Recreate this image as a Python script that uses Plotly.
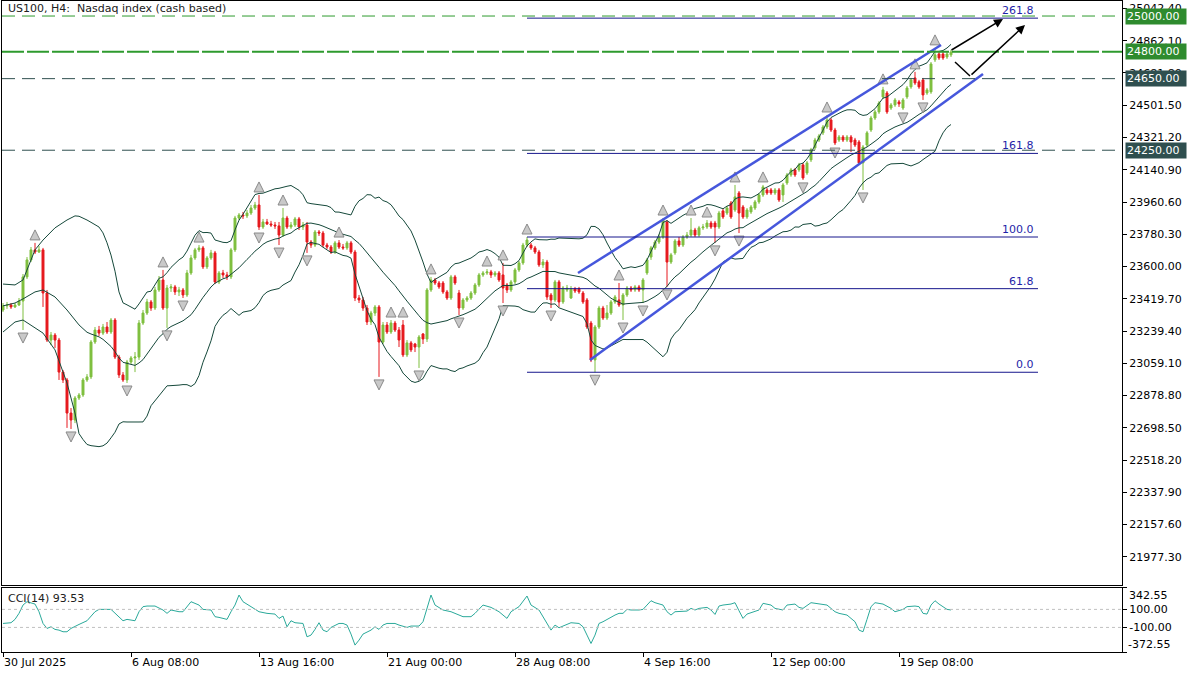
import numpy as np
import pandas as pd
import plotly.graph_objects as go

# ---------------- DATA (H4 bars, bar 0 = 30 Jul 2025 00:00) ----------------
opens = [23357, 23380, 23385, 23374, 23385, 23407, 23542, 23637, 23693, 23681,
         23693, 23452, 23189, 23217, 23189, 23010, 22966, 22781, 22742, 22865,
         22882, 22966, 22983, 23178, 23245, 23228, 23262, 23234, 23301, 23094,
         22994, 22966, 23066, 23089, 23094, 23284, 23340, 23402, 23368, 23469,
         23525, 23368, 23480, 23486, 23458, 23469, 23441, 23564, 23648, 23693,
         23704, 23598, 23648, 23676, 23514, 23564, 23553, 23542, 23693, 23871,
         23888, 23883, 23899, 23927, 23944, 23821, 23849, 23838, 23832, 23827,
         23776, 23871, 23821, 23832, 23866, 23821, 23832, 23737, 23720, 23793,
         23787, 23720, 23709, 23681, 23732, 23709, 23704, 23732, 23681, 23424,
         23413, 23368, 23290, 23340, 23374, 23178, 23273, 23234, 23284, 23245,
         23273, 23106, 23173, 23167, 23150, 23223, 23195, 23469, 23525, 23508,
         23508, 23458, 23424, 23542, 23452, 23368, 23413, 23424, 23452, 23497,
         23553, 23564, 23570, 23553, 23564, 23553, 23497, 23469, 23514, 23581,
         23620, 23720, 23720, 23704, 23681, 23609, 23625, 23441, 23413, 23514,
         23402, 23469, 23424, 23475, 23475, 23452, 23413, 23284, 23078, 23262,
         23368, 23312, 23340, 23402, 23413, 23385, 23441, 23480, 23469, 23486,
         23469, 23564, 23653, 23704, 23737, 23765, 23849, 23625, 23676, 23743,
         23720, 23765, 23776, 23804, 23776, 23816, 23821, 23843, 23843, 23821,
         23911, 23899, 23955, 23916, 24011, 23933, 23877, 23905, 23927, 23961,
         24000, 24028, 24028, 24011, 24028, 24000, 24067, 24112, 24140, 24140,
         24168, 24123, 24196, 24263, 24307, 24347, 24380, 24419, 24363, 24307,
         24324, 24307, 24324, 24307, 24296, 24179, 24279, 24363, 24430, 24464,
         24548, 24570, 24486, 24503, 24520, 24486, 24548, 24604, 24654, 24632,
         24643, 24570, 24576, 24755, 24788, 24788, 24771, 24783]
highs = [23396, 23402, 23396, 23396, 23424, 23558, 23653, 23709, 23732, 23715,
         23704, 23469, 23234, 23228, 23201, 23022, 22977, 22809, 22876, 22893,
         22977, 22999, 23189, 23262, 23268, 23279, 23290, 23312, 23312, 23106,
         23010, 23078, 23100, 23122, 23301, 23357, 23419, 23413, 23486, 23547,
         23581, 23497, 23502, 23497, 23486, 23480, 23581, 23665, 23704, 23720,
         23715, 23659, 23693, 23687, 23575, 23581, 23570, 23704, 23883, 23899,
         23905, 23916, 23944, 23961, 24000, 23866, 23866, 23855, 23849, 23849,
         23927, 23883, 23849, 23877, 23877, 23849, 23849, 23748, 23804, 23804,
         23799, 23732, 23720, 23743, 23748, 23726, 23743, 23743, 23693, 23441,
         23430, 23385, 23352, 23385, 23385, 23290, 23290, 23301, 23296, 23262,
         23301, 23189, 23184, 23173, 23217, 23228, 23480, 23542, 23536, 23519,
         23519, 23469, 23553, 23553, 23469, 23424, 23435, 23463, 23508, 23564,
         23575, 23586, 23581, 23575, 23575, 23620, 23508, 23525, 23592, 23631,
         23732, 23765, 23732, 23715, 23693, 23642, 23637, 23452, 23525, 23525,
         23491, 23497, 23491, 23486, 23486, 23463, 23424, 23296, 23273, 23380,
         23380, 23385, 23413, 23441, 23508, 23452, 23491, 23491, 23497, 23497,
         23536, 23648, 23715, 23748, 23782, 23871, 23860, 23676, 23754, 23765,
         23776, 23793, 23871, 23816, 23827, 23838, 23860, 23855, 23855, 23911,
         23922, 23939, 23966, 24056, 24022, 23944, 23927, 23944, 23972, 24011,
         24056, 24039, 24039, 24039, 24039, 24067, 24123, 24151, 24151, 24179,
         24179, 24190, 24263, 24319, 24341, 24391, 24447, 24430, 24375, 24335,
         24335, 24335, 24335, 24319, 24307, 24279, 24358, 24442, 24475, 24525,
         24604, 24581, 24514, 24542, 24531, 24542, 24609, 24654, 24688, 24643,
         24654, 24598, 24743, 24822, 24799, 24799, 24799, 24811]
lows = [23346, 23363, 23363, 23368, 23380, 23245, 23530, 23625, 23670, 23676,
        23374, 23178, 23161, 23145, 22966, 22949, 22698, 22692, 22725, 22854,
        22871, 22955, 22971, 23167, 23212, 23217, 23223, 23223, 23083, 22977,
        22955, 22949, 23055, 23010, 23078, 23273, 23329, 23352, 23357, 23458,
        23357, 23257, 23458, 23441, 23435, 23424, 23430, 23553, 23637, 23681,
        23586, 23586, 23637, 23502, 23502, 23536, 23525, 23530, 23681, 23860,
        23866, 23871, 23888, 23916, 23804, 23810, 23832, 23821, 23810, 23720,
        23765, 23810, 23810, 23821, 23804, 23804, 23676, 23704, 23709, 23771,
        23709, 23698, 23670, 23670, 23698, 23693, 23693, 23670, 23407, 23396,
        23352, 23273, 23273, 23324, 22983, 23167, 23223, 23223, 23234, 23150,
        23094, 23094, 23122, 23122, 23033, 23167, 23178, 23458, 23497, 23475,
        23447, 23413, 23413, 23497, 23329, 23357, 23402, 23413, 23441, 23486,
        23542, 23553, 23536, 23542, 23514, 23396, 23452, 23458, 23502, 23570,
        23609, 23709, 23693, 23670, 23598, 23592, 23413, 23368, 23402, 23374,
        23391, 23458, 23419, 23452, 23447, 23391, 23251, 23066, 23009, 23251,
        23301, 23301, 23329, 23391, 23374, 23301, 23430, 23458, 23458, 23458,
        23396, 23553, 23637, 23693, 23726, 23754, 23486, 23614, 23665, 23709,
        23709, 23754, 23765, 23765, 23765, 23804, 23810, 23810, 23732, 23810,
        23866, 23888, 23866, 23905, 23787, 23866, 23866, 23894, 23916, 23950,
        23989, 24000, 24000, 24000, 23961, 23961, 24056, 24101, 24101, 24129,
        24084, 24112, 24184, 24252, 24296, 24335, 24369, 24352, 24279, 24296,
        24296, 24296, 24240, 24268, 24168, 24028, 24268, 24352, 24419, 24453,
        24537, 24453, 24475, 24492, 24492, 24475, 24537, 24593, 24615, 24593,
        24531, 24559, 24565, 24743, 24755, 24755, 24760, 24771]
closes = [23380, 23385, 23374, 23385, 23407, 23542, 23637, 23693, 23681, 23693,
          23452, 23189, 23217, 23189, 23010, 22966, 22781, 22742, 22865, 22882,
          22966, 22983, 23178, 23245, 23228, 23262, 23234, 23301, 23094, 22994,
          22966, 23066, 23089, 23094, 23284, 23340, 23402, 23368, 23469, 23525,
          23368, 23480, 23486, 23458, 23469, 23441, 23564, 23648, 23693, 23704,
          23598, 23648, 23676, 23514, 23564, 23553, 23542, 23693, 23871, 23888,
          23883, 23899, 23927, 23944, 23821, 23849, 23838, 23832, 23827, 23776,
          23871, 23821, 23832, 23866, 23821, 23832, 23737, 23720, 23793, 23787,
          23720, 23709, 23681, 23732, 23709, 23704, 23732, 23681, 23424, 23413,
          23368, 23290, 23340, 23374, 23178, 23273, 23234, 23284, 23245, 23189,
          23106, 23173, 23134, 23150, 23206, 23195, 23469, 23525, 23508, 23486,
          23458, 23424, 23542, 23508, 23368, 23413, 23424, 23452, 23497, 23553,
          23564, 23570, 23553, 23564, 23525, 23480, 23469, 23514, 23581, 23620,
          23720, 23748, 23704, 23681, 23609, 23625, 23430, 23413, 23514, 23402,
          23480, 23480, 23475, 23463, 23458, 23402, 23262, 23078, 23262, 23368,
          23312, 23340, 23402, 23430, 23385, 23441, 23480, 23469, 23486, 23469,
          23525, 23637, 23704, 23737, 23765, 23860, 23625, 23665, 23743, 23720,
          23765, 23776, 23804, 23776, 23816, 23821, 23843, 23821, 23821, 23899,
          23877, 23927, 23877, 23989, 23899, 23877, 23916, 23933, 23961, 24000,
          24045, 24011, 24011, 24028, 23972, 24056, 24112, 24140, 24112, 24168,
          24095, 24179, 24252, 24307, 24330, 24380, 24419, 24363, 24291, 24324,
          24307, 24324, 24296, 24279, 24179, 24268, 24347, 24430, 24464, 24514,
          24587, 24464, 24503, 24531, 24509, 24531, 24598, 24643, 24626, 24604,
          24559, 24587, 24732, 24783, 24766, 24766, 24788, 24799]

x_tick_bars = [0, 32, 64, 96, 128, 160, 192, 224]
x_tick_labels = ["30 Jul 2025", "6 Aug 08:00", "13 Aug 16:00", "21 Aug 00:00",
                 "28 Aug 08:00", "4 Sep 16:00", "12 Sep 00:00", "19 Sep 08:00"]
price_ticks = [21977.30, 22157.60, 22337.90, 22518.20, 22698.50, 22878.80,
               23059.10, 23239.40, 23419.70, 23600.00, 23780.30, 23960.60,
               24140.90, 24321.20, 24501.50, 24681.80, 24862.10, 25042.40]
cci_ticks = [342.55, 100.0, -100.0, -372.55]

# Bollinger band values read for the first bars (before 20 bars of history exist)
bb_head_bars = [0, 3, 5, 8, 10, 13, 16, 18]
bb_head_upper = [23502, 23497, 23525, 23693, 23748, 23816, 23860, 23883]
bb_head_mid = [23380, 23396, 23419, 23458, 23469, 23430, 23357, 23301]
bb_head_lower = [23234, 23290, 23301, 23257, 23228, 23134, 22949, 22781]

# CCI(14)
cci_bars = [0, 2, 3, 4, 5, 6, 8, 9, 10, 11, 12, 13, 14, 15, 16, 17, 19, 21, 23, 24,
            27, 28, 30, 31, 33, 34, 35, 36, 38, 40, 41, 42, 44, 45, 47, 49, 50, 52, 53, 54,
            56, 57, 58, 59, 60, 62, 64, 66, 68, 69, 70, 71, 72, 73, 75, 76, 77, 78, 79, 80,
            81, 82, 84, 85, 86, 87, 88, 89, 90, 92, 93, 94, 95, 96, 98, 99, 101, 102, 104, 105,
            106, 107, 108, 110, 112, 115, 117, 118, 120, 122, 124, 126, 127, 129, 131, 132, 134, 135, 137, 138,
            139, 140, 142, 144, 145, 146, 147, 148, 149, 150, 151, 153, 154, 155, 156, 157, 159, 160, 161, 162,
            163, 165, 166, 167, 168, 169, 171, 172, 173, 174, 176, 177, 178, 179, 180, 182, 183, 184, 185, 186,
            188, 189, 190, 192, 193, 195, 196, 198, 199, 200, 202, 203, 205, 206, 208, 209, 211, 212, 213, 214,
            215, 216, 217, 218, 220, 222, 223, 225, 226, 228, 229, 230, 231, 232, 233, 234, 235, 236, 237]
cci_values = [-56, -48, -11, 56, 148, 185, 159, 74, -56, -111, -93, -122, -130, -148, -148, -111, -67, -26, 74, 100,
              100, 56, -26, -11, -26, 74, 130, 137, 137, 93, 56, 93, 74, 74, 185, 148, 100, 93, 19, 11,
              -11, 74, 148, 259, 185, 130, 74, 56, 48, 0, 26, -93, -26, -48, -56, -204, -185, -122, -48, -130,
              -148, -100, -56, -56, -74, -174, -296, -241, -174, -130, -93, -122, -74, -56, -56, -74, -100, -85, -85, -37,
              111, 259, 148, 93, 74, 19, 19, 56, 148, 122, 74, 0, 74, 130, 248, 148, 93, 19, -130, -74,
              -104, -85, -48, -56, -93, -185, -278, -185, -56, -37, -11, 37, 56, 56, 100, 93, 93, 100, 148, 196,
              174, 148, 74, 37, 74, 74, 81, 111, 93, 111, 122, 93, 44, 137, 148, 159, 174, 85, 0, 48,
              74, 93, 167, 148, 111, 93, 148, 159, 122, 111, 174, 167, 159, 148, 74, 56, 37, 0, -37, -130,
              -148, -11, 130, 174, 159, 111, 74, 100, 130, 137, 130, 56, 48, 148, 196, 159, 130, 100, 93.53]

# levels and drawings (bar index, price)
green_levels = [25000, 24800]
dark_levels = [24650, 24250]
fib_bars = [131, 258.75]
fib_price_100 = 23765
fib_price_0 = 23009
fib_levels = [0.0, 61.8, 100.0, 161.8, 261.8]
chan_up_bars = [143.75, 234.5]
chan_up_prices = [23564, 24838]
chan_lo_bars = [146.75, 245]
chan_lo_prices = [23078, 24676]
arrow1_bars = [236.75, 250]
arrow1_prices = [24805, 24984]
arrow2_bars = [238, 241.75, 255.5]
arrow2_prices = [24743, 24665, 24950]

assert len(opens) == len(highs) == len(lows) == len(closes)
assert len(cci_bars) == len(cci_values)

# ---------------- STYLE / LAYOUT ----------------
W, H = 1200, 675
ML, MR, MT, MB = 2, 78, 1, 23
PLOT_H = H - MT - MB
MAIN_BOTTOM_PX = 585
CCI_TOP_PX = 587.5
main_dom = [(H - MB - MAIN_BOTTOM_PX) / PLOT_H, 1.0]
cci_dom = [0.0, (H - MB - CCI_TOP_PX) / PLOT_H]
y_range = [21820, 25084]
x_range = [-0.25, 279.75]
cci_range = [-372.55, 342.55]
price_per_px = (y_range[1] - y_range[0]) / (MAIN_BOTTOM_PX - MT)

GREEN = "#7fbf3f"
RED = "#e6191e"
BB_COL = "#15483a"
FONT = "DejaVu Sans"

n = len(closes)
bars = list(range(n))

# Bollinger (20, 2)
s = pd.Series(closes, dtype=float)
mid = s.rolling(20).mean()
sd = s.rolling(20).std(ddof=0)
bb_x = bb_head_bars + bars[19:]
bb_up = bb_head_upper + (mid + 2 * sd)[19:].tolist()
bb_mid = bb_head_mid + mid[19:].tolist()
bb_lo = bb_head_lower + (mid - 2 * sd)[19:].tolist()

# Fractals
up_fr = [i for i in range(2, n - 2) if highs[i] > max(highs[i - 2], highs[i - 1], highs[i + 1], highs[i + 2])]
dn_fr = [i for i in range(2, n - 2) if lows[i] < min(lows[i - 2], lows[i - 1], lows[i + 1], lows[i + 2])]
fr_off = 13 * price_per_px

fig = go.Figure()

for band in (bb_up, bb_mid, bb_lo):
    fig.add_trace(go.Scatter(x=bb_x, y=band, mode="lines", line=dict(color=BB_COL, width=1),
                             hoverinfo="skip", showlegend=False, xaxis="x", yaxis="y"))

fig.add_trace(go.Candlestick(
    x=bars, open=opens, high=highs, low=lows, close=closes,
    increasing=dict(line=dict(color=GREEN, width=1), fillcolor=GREEN),
    decreasing=dict(line=dict(color=RED, width=1), fillcolor=RED),
    whiskerwidth=0, hoverinfo="skip", showlegend=False, xaxis="x", yaxis="y"))

fig.add_trace(go.Scatter(x=up_fr, y=[highs[i] + fr_off for i in up_fr], mode="markers",
                         marker=dict(symbol="arrow-up", size=10, color="#c9c9c9",
                                     line=dict(color="#8a8a8a", width=1)),
                         hoverinfo="skip", showlegend=False))
fig.add_trace(go.Scatter(x=dn_fr, y=[lows[i] - fr_off for i in dn_fr], mode="markers",
                         marker=dict(symbol="arrow-down", size=10, color="#c9c9c9",
                                     line=dict(color="#8a8a8a", width=1)),
                         hoverinfo="skip", showlegend=False))

# channel lines
for bx, py in ((chan_up_bars, chan_up_prices), (chan_lo_bars, chan_lo_prices)):
    fig.add_trace(go.Scatter(x=bx, y=py, mode="lines", line=dict(color="#4657dc", width=2.5),
                             hoverinfo="skip", showlegend=False))

# arrow 2 polyline (first segment)
fig.add_trace(go.Scatter(x=arrow2_bars[:2], y=arrow2_prices[:2], mode="lines",
                         line=dict(color="#000000", width=1.5), hoverinfo="skip", showlegend=False))

# CCI
fig.add_trace(go.Scatter(x=cci_bars, y=cci_values, mode="lines", line=dict(color="#2aa99a", width=1),
                         hoverinfo="skip", showlegend=False, xaxis="x2", yaxis="y2"))

shapes = []
for lv in (100, -100):
    shapes.append(dict(type="line", xref="paper", x0=0, x1=1, yref="y2", y0=lv, y1=lv,
                       line=dict(color="#c0c0c0", width=1, dash="3px,3px")))
shapes.append(dict(type="line", xref="paper", x0=0, x1=1, yref="y", y0=green_levels[0], y1=green_levels[0],
                   line=dict(color="#2e9a2e", width=1, dash="13px,7px")))
shapes.append(dict(type="line", xref="paper", x0=0, x1=1, yref="y", y0=green_levels[1], y1=green_levels[1],
                   line=dict(color="#2e9a2e", width=2, dash="22px,3px")))
for lv in dark_levels:
    shapes.append(dict(type="line", xref="paper", x0=0, x1=1, yref="y", y0=lv, y1=lv,
                       line=dict(color="#2f4f4f", width=1, dash="13px,7px")))
fib_span = fib_price_100 - fib_price_0
for lv in fib_levels:
    p = fib_price_0 + fib_span * lv / 100.0
    shapes.append(dict(type="line", xref="x", x0=fib_bars[0], x1=fib_bars[1], yref="y", y0=p, y1=p,
                       line=dict(color="#16168c", width=1)))

annotations = []
for lv in fib_levels:
    p = fib_price_0 + fib_span * lv / 100.0
    annotations.append(dict(x=fib_bars[1], y=p, xref="x", yref="y", text=f"{lv:.1f}", showarrow=False,
                            xanchor="right", yanchor="bottom", xshift=-2, yshift=-1,
                            font=dict(family=FONT, size=11, color="#1f1fa8")))
for lv in green_levels:
    annotations.append(dict(x=1, y=lv, xref="paper", yref="y", text=f"{lv:.2f}", showarrow=False,
                            xanchor="left", yanchor="middle", xshift=3, bgcolor="#2e8b2e",
                            borderpad=1, width=58, align="left",
                            font=dict(family=FONT, size=11, color="#ffffff")))
for lv in dark_levels:
    annotations.append(dict(x=1, y=lv, xref="paper", yref="y", text=f"{lv:.2f}", showarrow=False,
                            xanchor="left", yanchor="middle", xshift=3, bgcolor="#2f4f4f",
                            borderpad=1, width=58, align="left",
                            font=dict(family=FONT, size=11, color="#ffffff")))
# arrows heads
annotations.append(dict(x=arrow1_bars[1], y=arrow1_prices[1], ax=arrow1_bars[0], ay=arrow1_prices[0],
                        xref="x", yref="y", axref="x", ayref="y", text="", showarrow=True,
                        arrowhead=2, arrowsize=1.2, arrowwidth=1.5, arrowcolor="#000000"))
annotations.append(dict(x=arrow2_bars[2], y=arrow2_prices[2], ax=arrow2_bars[1], ay=arrow2_prices[1],
                        xref="x", yref="y", axref="x", ayref="y", text="", showarrow=True,
                        arrowhead=2, arrowsize=1.2, arrowwidth=1.5, arrowcolor="#000000"))
# titles
annotations.append(dict(x=0, y=1, xref="paper", yref="paper", text="US100, H4:  Nasdaq index (cash based)",
                        showarrow=False, xanchor="left", yanchor="top", xshift=4, yshift=1,
                        font=dict(family=FONT, size=11, color="#202020")))
annotations.append(dict(x=0, y=1, xref="paper", yref="y2 domain", text="CCI(14) 93.53",
                        showarrow=False, xanchor="left", yanchor="top", xshift=4, yshift=-2,
                        font=dict(family=FONT, size=11, color="#202020")))
annotations.append(dict(x=1, y=cci_ticks[0], xref="paper", yref="y2", text="342.55", showarrow=False,
                        xanchor="left", yanchor="top", xshift=5, yshift=1,
                        font=dict(family=FONT, size=11, color="#000000")))
annotations.append(dict(x=1, y=cci_ticks[3], xref="paper", yref="y2", text="-372.55", showarrow=False,
                        xanchor="left", yanchor="bottom", xshift=4, yshift=-1,
                        font=dict(family=FONT, size=11, color="#000000")))

axis_common = dict(showgrid=False, zeroline=False, showline=True, mirror=True,
                   linecolor="#000000", linewidth=1)
fig.update_layout(
    width=W, height=H, margin=dict(l=ML, r=MR, t=MT, b=MB),
    paper_bgcolor="#ffffff", plot_bgcolor="#ffffff",
    font=dict(family=FONT, size=11, color="#000000"),
    showlegend=False, hovermode=False,
    shapes=shapes, annotations=annotations,
    xaxis=dict(domain=[0, 1], range=x_range, anchor="y", showticklabels=False, ticks="",
               rangeslider=dict(visible=False), **axis_common),
    yaxis=dict(domain=main_dom, range=y_range, anchor="x", side="right",
               tickvals=price_ticks, ticktext=[f"{v:.2f}" for v in price_ticks],
               ticks="outside", ticklen=4, tickcolor="#000000",
               tickfont=dict(family=FONT, size=11, color="#000000"), **axis_common),
    xaxis2=dict(domain=[0, 1], range=x_range, anchor="y2", tickvals=x_tick_bars, ticktext=x_tick_labels,
                ticks="outside", ticklen=4, tickcolor="#000000", ticklabelposition="outside right",
                tickfont=dict(family=FONT, size=11, color="#000000"), **axis_common),
    yaxis2=dict(domain=cci_dom, range=cci_range, anchor="x2", side="right",
                tickvals=cci_ticks, ticktext=["", "100.00", "-100.00", ""],
                ticks="outside", ticklen=4, tickcolor="#000000",
                tickfont=dict(family=FONT, size=11, color="#000000"), **axis_common),
)

fig.write_html("out.html", include_plotlyjs=True, config={"displayModeBar": False})
